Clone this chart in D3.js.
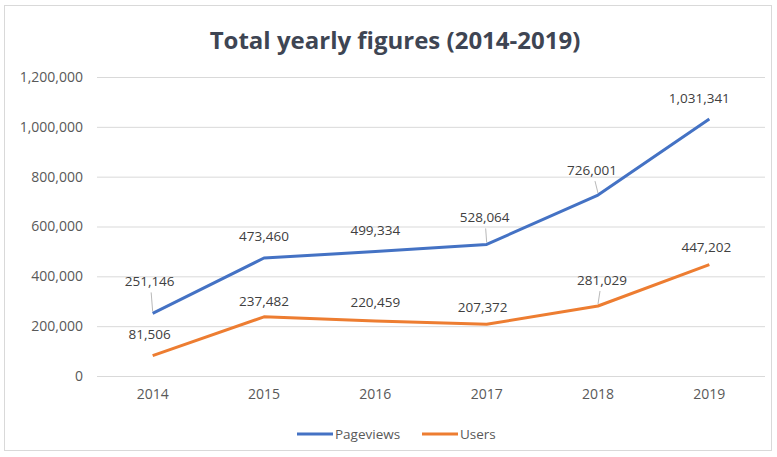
<!DOCTYPE html>
<html><head><meta charset="utf-8">
<script src="https://cdn.jsdelivr.net/npm/d3@7"></script>
<style>body{margin:0;background:#fff}svg{display:block}</style>
</head><body><svg id="c" width="777" height="457"></svg>
<script>
const years = ["2014","2015","2016","2017","2018","2019"];
const pageviews = [251146, 473460, 499334, 528064, 726001, 1031341];
const users = [81506, 237482, 220459, 207372, 281029, 447202];
const yTicks = [0, 200000, 400000, 600000, 800000, 1000000, 1200000];
const seriesNames = ["Pageviews", "Users"];
const colors = ["#4472C4", "#ED7D31"];
// label nudges (styling): [dx, dy] from point
const pvNudge = [[-3,-27],[0,-17],[0,-17],[-2,-22],[-6,-20],[-10,-16]];
const usNudge = [[-3,-17],[0,-11],[0,-14],[-4,-12],[4,-21],[-3,-13]];

const svg = d3.select("#c");
const font = "'Open Sans', sans-serif";
svg.append("rect").attr("x",4.5).attr("y",5.5).attr("width",767).attr("height",445)
  .attr("fill","#fff").attr("stroke","#d9d9d9");

const x = d3.scaleBand().domain(years).range([97, 765]);
const y = d3.scaleLinear().domain([0, 1200000]).range([376, 77]);
const fmt = d3.format(",");

svg.append("text").attr("x",395).attr("y",49).attr("text-anchor","middle")
  .attr("font-family",font).attr("font-weight","bold").attr("font-size",24)
  .attr("fill","#3e4553").text("Total yearly figures (2014-2019)");

const yAxis = d3.axisLeft(y).tickValues(yTicks).tickFormat(fmt).tickSize(-(765-97)).tickPadding(14);
const gy = svg.append("g").attr("transform","translate(97,0)").call(yAxis);
gy.select(".domain").remove();
gy.selectAll(".tick line").attr("stroke","#d9d9d9");
gy.selectAll(".tick text").attr("font-family",font).attr("font-size",14).attr("fill","#595959");

const xAxis = d3.axisBottom(x).tickSize(0).tickPadding(13);
const gx = svg.append("g").attr("transform","translate(0,376)").call(xAxis);
gx.select(".domain").remove();
gx.selectAll(".tick text").attr("font-family",font).attr("font-size",14).attr("fill","#595959");

const cx = d => x(d) + x.bandwidth()/2;
const line = d3.line().x((d,i)=>cx(years[i])).y(d=>y(d));
[pageviews, users].forEach((s,k)=>{
  svg.append("path").datum(s).attr("d",line).attr("fill","none")
    .attr("stroke",colors[k]).attr("stroke-width",3).attr("stroke-linejoin","round");
});
[[pageviews,pvNudge],[users,usNudge]].forEach(([s,nudge])=>{
  s.forEach((v,i)=>{
    const px = cx(years[i]), py = y(v);
    const [dx,dy] = nudge[i];
    if (dy < -19) {
      svg.append("line").attr("x1",px).attr("y1",py-2).attr("x2",px+dx*0.5).attr("y2",py+dy+6)
        .attr("stroke","#a6a6a6").attr("stroke-width",0.8);
    }
    svg.append("text").attr("x",px+dx).attr("y",py+dy).attr("text-anchor","middle")
      .attr("font-family",font).attr("font-size",13.5).attr("fill","#404040").text(fmt(v));
  });
});

const legend = svg.append("g").attr("transform","translate(0,434)");
const lx = [297, 422];
seriesNames.forEach((n,k)=>{
  legend.append("line").attr("x1",lx[k]).attr("x2",lx[k]+36).attr("y1",0).attr("y2",0)
    .attr("stroke",colors[k]).attr("stroke-width",3);
  legend.append("text").attr("x",lx[k]+38).attr("y",5).attr("font-family",font)
    .attr("font-size",13.5).attr("fill","#595959").text(n);
});
</script></body></html>
